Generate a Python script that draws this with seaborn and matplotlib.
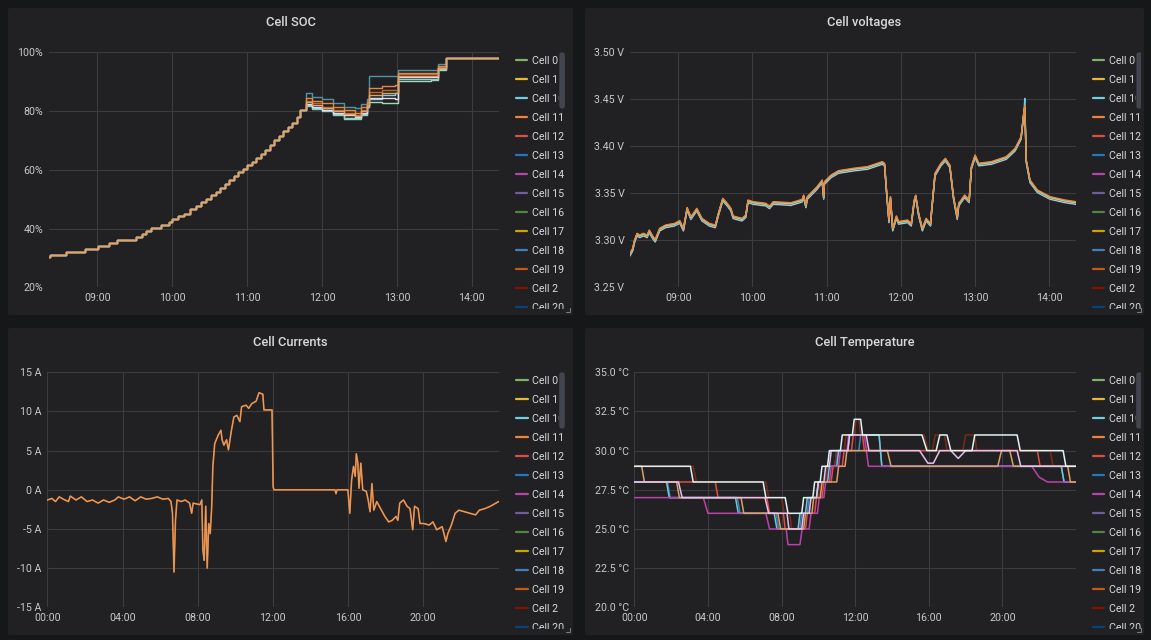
import matplotlib
matplotlib.use("Agg")
import matplotlib.pyplot as plt
from matplotlib.patches import Rectangle, FancyBboxPatch
import pandas as pd
import seaborn as sns

W, H = 1151, 640
BG = "#161719"
PANEL = "#212124"
GRID = "#3c3c3f"
TICK = "#c8c9ca"
TEXT = "#d8d9da"

# ---------------- legend (same list in every panel) ----------------
LEGEND_CELLS = ["Cell 0", "Cell 1", "Cell 10", "Cell 11", "Cell 12", "Cell 13", "Cell 14",
                "Cell 15", "Cell 16", "Cell 17", "Cell 18", "Cell 19", "Cell 2", "Cell 20"]
LEGEND_COLORS = ["#7EB26D", "#EAB839", "#6ED0E0", "#EF843C", "#E24D42", "#1F78C1", "#BA43A9",
                 "#705DA0", "#508642", "#CCA300", "#447EBC", "#C15C17", "#890F02", "#0A437C"]

# ---------------- time axes ----------------
DAY_TICKS = [9, 10, 11, 12, 13, 14]
DAY_LABELS = ["09:00", "10:00", "11:00", "12:00", "13:00", "14:00"]
FULL_TICKS = [0, 4, 8, 12, 16, 20]
FULL_LABELS = ["00:00", "04:00", "08:00", "12:00", "16:00", "20:00"]

# ---------------- Cell SOC (%) ----------------
SOC_HOURS = [8.35, 8.36, 8.58, 8.83, 9.01, 9.15, 9.26, 9.51, 9.59, 9.65,
             9.72, 9.85, 9.95, 10.00, 10.08, 10.16, 10.24, 10.31, 10.38, 10.45,
             10.52, 10.58, 10.64, 10.70, 10.76, 10.82, 10.88, 10.94, 11.00, 11.06,
             11.12, 11.18, 11.24, 11.30, 11.36, 11.42, 11.48, 11.54, 11.60, 11.66]
SOC_BASE = [30.4, 31.0, 32.0, 33.0, 34.0, 35.0, 36.0, 37.2, 38.1, 39.2,
            40.2, 41.1, 42.1, 43.3, 44.2, 45.1, 46.5, 47.8, 49.0, 50.2,
            51.4, 52.5, 53.8, 55.2, 56.6, 57.9, 59.1, 60.3, 61.5, 62.8,
            64.1, 65.4, 66.9, 68.5, 70.0, 71.6, 73.1, 74.6, 76.1, 78.1]
SOC_SPREAD_HOURS = [11.71, 11.79, 11.87, 12.00, 12.14, 12.30, 12.44, 12.52, 12.60,
                    12.63, 12.80, 12.98, 13.02, 13.20, 13.45, 13.55, 13.65]
SOC_TEAL = [80.4, 86.3, 84.9, 84.0, 82.6, 81.5, 80.9, 82.5, 84.0, 91.9, 91.9, 91.9, 94.0, 94.0, 94.0, 96.0, 98.0]
SOC_ORANGE = [80.4, 84.5, 83.5, 82.6, 81.5, 80.2, 79.5, 81.5, 83.0, 88.0, 88.5, 89.0, 93.0, 93.0, 93.0, 95.5, 98.0]
SOC_BROWN = [80.4, 83.5, 82.8, 81.5, 80.4, 79.5, 78.8, 80.5, 82.5, 86.5, 87.0, 87.0, 92.5, 92.5, 92.5, 95.0, 98.0]
SOC_TAN = [80.4, 83.0, 82.0, 81.0, 80.0, 79.0, 78.3, 80.0, 82.2, 85.5, 86.0, 86.0, 92.0, 92.0, 92.0, 94.8, 98.0]
SOC_PINK = [80.4, 82.5, 81.5, 80.5, 79.5, 78.5, 78.0, 79.5, 82.0, 84.5, 84.5, 84.0, 91.5, 91.5, 91.5, 94.5, 98.0]
SOC_CYAN = [80.4, 81.7, 80.8, 80.0, 78.7, 77.2, 77.2, 78.8, 81.5, 84.0, 85.5, 86.0, 91.0, 91.0, 91.0, 94.2, 98.0]
SOC_GREEN = [80.4, 82.0, 81.2, 80.4, 79.0, 77.8, 77.5, 79.0, 81.5, 83.0, 82.6, 82.6, 90.2, 90.2, 90.5, 94.0, 98.0]
SOC_END_HOUR = 14.36
SOC_FULL = 98.0

# ---------------- Cell voltages (V) ----------------
VOLT_HOURS = [8.35, 8.386, 8.41, 8.445, 8.48, 8.53, 8.58, 8.61, 8.66, 8.69,
              8.75, 8.83, 8.95, 9.02, 9.07, 9.12, 9.17, 9.25, 9.32, 9.42,
              9.50, 9.54, 9.60, 9.66, 9.71, 9.74, 9.86, 9.91, 9.94, 10.01,
              10.18, 10.23, 10.28, 10.52, 10.67, 10.69, 10.72, 10.74, 10.87, 10.94,
              10.96, 10.97, 11.06, 11.16, 11.36, 11.55, 11.75, 11.78, 11.81, 11.84,
              11.86, 11.89, 11.94, 11.97, 12.09, 12.14, 12.18, 12.20, 12.24, 12.29,
              12.34, 12.40, 12.41, 12.46, 12.54, 12.60, 12.66, 12.71, 12.76, 12.78,
              12.86, 12.92, 12.95, 13.00, 13.05, 13.22, 13.42, 13.54, 13.62, 13.66,
              13.67, 13.69, 13.74, 13.84, 14.01, 14.21, 14.36]
VOLT_BASE = [3.2862, 3.2915, 3.3000, 3.3075, 3.3057, 3.3075, 3.3057, 3.3110, 3.3040, 3.3010,
             3.3128, 3.3163, 3.3180, 3.3210, 3.3128, 3.3350, 3.3250, 3.3340, 3.3234, 3.3180,
             3.3163, 3.3287, 3.3447, 3.3394, 3.3340, 3.3259, 3.3234, 3.3270, 3.3429, 3.3411,
             3.3394, 3.3365, 3.3411, 3.3400, 3.3436, 3.3482, 3.3376, 3.3465, 3.3570, 3.3642,
             3.3465, 3.3624, 3.3695, 3.3741, 3.3766, 3.3784, 3.3837, 3.3820, 3.3500, 3.3216,
             3.3465, 3.3128, 3.3259, 3.3200, 3.3216, 3.3180, 3.3429, 3.3482, 3.3287, 3.3128,
             3.3234, 3.3180, 3.3287, 3.3713, 3.3820, 3.3872, 3.3801, 3.3465, 3.3250, 3.3394,
             3.3482, 3.3429, 3.3784, 3.3908, 3.3820, 3.3837, 3.3890, 3.3979, 3.4103, 3.4387,
             3.4430, 3.3855, 3.3642, 3.3536, 3.3465, 3.3429, 3.3411]
VOLT_SERIES = ["purple", "white", "green", "cyan", "lightgreen", "orange"]
VOLT_COLORS = ["#8a7ac0", "#e4ecef", "#5e9a50", "#6ED0E0", "#B7DBAB", "#EF843C"]
VOLT_OFFSETS = [-0.0030, -0.0024, -0.0018, -0.0010, -0.0006, 0.0]
VOLT_PEAK_HOUR = 13.67
VOLT_PEAK_CYAN = 3.451

# ---------------- Cell currents (A) ----------------
CUR_HOURS = [0.00, 0.24, 0.43, 0.63, 0.93, 1.12, 1.22, 1.52, 1.81, 2.11,
             2.40, 2.70, 2.99, 3.29, 3.59, 3.78, 4.08, 4.37, 4.67, 4.97,
             5.26, 5.56, 5.85, 6.15, 6.44, 6.58, 6.66, 6.74, 6.82, 6.90,
             7.13, 7.33, 7.57, 7.68, 7.76, 8.12, 8.22, 8.28, 8.35, 8.43,
             8.51, 8.59, 8.67, 8.75, 8.81, 8.91, 9.10, 9.24, 9.30, 9.40,
             9.54, 9.64, 9.80, 9.93, 10.09, 10.25, 10.34, 10.58, 10.72, 10.88,
             11.11, 11.27, 11.47, 11.53, 11.76, 11.96, 12.02, 12.06, 15.31, 15.37,
             15.42, 16.00, 16.10, 16.20, 16.30, 16.39, 16.45, 16.53, 16.59, 16.69,
             16.79, 16.98, 17.08, 17.18, 17.28, 17.38, 17.54, 17.67, 17.97, 18.17,
             18.36, 18.56, 18.66, 18.76, 18.96, 19.15, 19.31, 19.45, 19.55, 19.74,
             19.84, 20.04, 20.33, 20.53, 20.73, 21.02, 21.22, 21.32, 21.51, 21.71,
             21.91, 22.21, 22.50, 22.80, 23.00, 23.29, 23.59, 23.88, 24.03]
CUR_AMPS = [-1.3, -1.1, -1.5, -0.9, -1.3, -1.5, -0.8, -1.3, -0.9, -1.5,
            -1.3, -1.7, -1.3, -1.6, -1.3, -0.9, -1.2, -0.9, -1.4, -0.9,
            -1.2, -1.1, -0.9, -1.2, -1.1, -1.5, -3.0, -10.5, -3.9, -1.3,
            -1.5, -1.3, -1.7, -3.0, -1.7, -1.9, -1.3, -7.7, -9.0, -2.1,
            -10.0, -4.3, -5.6, -2.1, 3.0, 5.9, 7.0, 7.6, 6.4, 5.7,
            6.4, 5.1, 7.6, 9.3, 9.5, 8.7, 10.6, 10.8, 10.4, 11.0,
            11.3, 12.4, 12.2, 10.2, 10.2, 10.2, 0.4, 0.0, 0.0, -0.5,
            0.0, 0.0, -3.0, 1.3, 3.0, 1.7, 4.6, 3.4, 0.2, 3.4,
            0.0, -0.2, -1.3, -2.8, 0.8, -2.6, -1.5, -2.1, -3.4, -4.1,
            -3.9, -3.4, -3.9, -1.7, -1.3, -2.1, -2.4, -5.1, -2.1, -2.4,
            -4.3, -4.3, -4.5, -4.1, -5.1, -4.7, -6.6, -5.6, -4.5, -3.0,
            -2.6, -2.8, -3.0, -3.2, -2.6, -2.4, -2.1, -1.7, -1.5]

# ---------------- Cell temperature (degC) ----------------
TEMP_BLUE_H = [0, 1.8, 1.95, 5.6, 5.75, 7.7, 7.85, 9.0, 9.1, 9.4, 9.5, 9.9, 10.0, 10.4, 10.5,
               10.9, 11.0, 12.2, 12.3, 13.3, 13.45, 23.2, 23.35, 24.0]
TEMP_BLUE_C = [28, 28, 27, 27, 26, 26, 25, 25, 26, 26, 27, 27, 28, 28, 29,
               29, 30, 30, 31, 31, 29, 29, 28, 28]
TEMP_RED_H = [0, 4.4, 4.55, 7.2, 7.35, 8.1, 8.2, 9.3, 9.4, 9.8, 9.9, 10.2, 10.3, 10.7, 10.8,
              11.3, 11.4, 11.8, 11.9, 12.4, 12.5, 21.9, 22.05, 24.0]
TEMP_RED_C = [28, 28, 27, 27, 26, 26, 25, 25, 26, 26, 27, 27, 28, 28, 29,
              29, 30, 30, 31, 31, 30, 30, 29, 29]
TEMP_BROWN_H = [0, 3.2, 3.38, 7.15, 7.3, 8.0, 8.15, 8.45, 8.55, 8.9, 9.0, 9.5, 9.6, 10.0, 10.1,
                10.4, 10.5, 10.9, 11.0, 11.4, 11.5, 11.95, 12.05, 12.2, 12.3, 15.75, 15.95, 16.2,
                16.35, 16.85, 17.0, 17.85, 18.0, 18.5, 18.6, 22.6, 22.75, 24.0]
TEMP_BROWN_C = [29, 29, 28, 28, 27, 27, 26, 26, 25, 25, 26, 26, 27, 27, 28,
                28, 29, 29, 30, 30, 31, 31, 32, 32, 31, 31, 30, 30,
                31, 31, 30, 30, 31, 31, 30, 30, 29, 29]
TEMP_CYAN_H = [0, 1.75, 1.9, 5.5, 5.65, 7.6, 7.75, 8.9, 9.0, 9.3, 9.4, 9.9, 10.0, 10.5, 10.6,
               11.0, 11.1, 11.6, 11.7, 13.3, 13.45, 23.2, 23.35, 24.0]
TEMP_CYAN_C = [28, 28, 27, 27, 26, 26, 25, 25, 26, 26, 27, 27, 28, 28, 29,
               29, 30, 30, 31, 31, 29, 29, 28, 28]
TEMP_MAGENTA_H = [0, 3.75, 4.0, 7.15, 7.35, 8.25, 8.35, 9.0, 9.12, 9.5, 9.6, 9.95, 10.05, 10.3,
                  10.4, 10.6, 10.7, 11.1, 11.2, 11.55, 11.65, 12.5, 12.72, 21.6, 22.0, 22.45, 24.0]
TEMP_MAGENTA_C = [27, 27, 26, 26, 25, 25, 24, 24, 25, 25, 26, 26, 27, 27,
                  28, 28, 29, 29, 30, 30, 31, 31, 29, 29, 28.3, 28, 28]
TEMP_TAN_H = [0, 0.4, 0.55, 2.3, 2.45, 5.8, 5.95, 7.8, 7.95, 9.2, 9.3, 9.65, 9.75, 10.1, 10.2,
              11.0, 11.1, 11.45, 11.55, 13.75, 13.95, 19.75, 19.95, 20.4, 20.6, 23.55, 23.7, 24.0]
TEMP_TAN_C = [29, 29, 28, 28, 27, 27, 26, 26, 25, 25, 26, 26, 27, 27, 28,
              28, 29, 29, 30, 30, 29, 29, 30, 30, 29, 29, 28, 28]
TEMP_PINK_H = [0, 2.4, 2.6, 7.1, 7.3, 8.3, 8.4, 9.1, 9.2, 9.5, 9.6, 9.9, 10.0, 10.3, 10.4,
               10.6, 10.7, 11.6, 11.7, 12.6, 12.75, 15.5, 15.95, 16.25, 16.6, 17.2, 17.6, 18.0,
               20.8, 21.0, 24.0]
TEMP_PINK_C = [28, 28, 27, 27, 26, 26, 25, 25, 26, 26, 27, 27, 28, 28, 29,
               29, 30, 30, 31, 31, 30, 30, 29.2, 29.2, 30, 30, 29.5, 30,
               30, 29, 29]
TEMP_WHITE_H = [0, 3.05, 3.2, 7.0, 7.15, 8.2, 8.35, 9.1, 9.2, 9.7, 9.8, 10.1, 10.2, 10.5, 10.6,
                11.2, 11.3, 11.85, 11.95, 12.3, 12.4, 15.63, 15.9, 16.4, 16.6, 16.99, 17.2, 18.35,
                18.5, 20.8, 20.97, 23.3, 23.45, 24.0]
TEMP_WHITE_C = [29, 29, 28, 28, 27, 27, 26, 26, 27, 27, 28, 28, 29, 29, 30,
                30, 31, 31, 32, 32, 31, 31, 30, 30, 31, 31, 30, 30,
                31, 31, 30, 30, 29, 29]

# ---------------- layout (pixels) ----------------
PANELS = {
    "soc": dict(box=(8, 8, 573, 315), plot=(48.8, 52.3, 498.7, 287.3), title="Cell SOC",
                leg_line=515.7, leg_text=531.7, leg_y0=60, leg_bottom=308.5),
    "volt": dict(box=(585, 8, 1144, 315), plot=(630, 52.3, 1076, 287.3), title="Cell voltages",
                 leg_line=1092.7, leg_text=1108.8, leg_y0=60, leg_bottom=308.5),
    "cur": dict(box=(8, 328, 573, 635), plot=(47.4, 372.3, 498.7, 607.3), title="Cell Currents",
                leg_line=516, leg_text=531.6, leg_y0=380, leg_bottom=628.5),
    "temp": dict(box=(585, 328, 1144, 635), plot=(634.3, 372.3, 1076, 607.3), title="Cell Temperature",
                 leg_line=1092.7, leg_text=1108.6, leg_y0=380, leg_bottom=628.5),
}

sns.set_theme(style="dark")
plt.rcParams["font.family"] = ["Roboto", "DejaVu Sans"]

fig = plt.figure(figsize=(W / 100, H / 100), dpi=100, facecolor=BG)


def make_axes(l, t, r, b, **kw):
    return fig.add_axes([l / W, 1 - b / H, (r - l) / W, (b - t) / H], **kw)


# panel backgrounds
bg = make_axes(0, 0, W, H, zorder=-1)
bg.set_xlim(0, W)
bg.set_ylim(H, 0)
bg.axis("off")
for p in PANELS.values():
    l, t, r, b = p["box"]
    bg.add_patch(FancyBboxPatch((l, t), r - l, b - t, boxstyle="round,pad=0,rounding_size=2",
                                facecolor=PANEL, edgecolor="none"))
    bg.plot([r - 7, r - 3, r - 3], [b - 3, b - 3, b - 7], color="#77787c", lw=0.8)
    fig.text((l + r) / 2 / W, 1 - (t + 14.5) / H, p["title"], ha="center", va="center",
             fontsize=9.3, fontweight="medium", color=TEXT)


def series_frame(name, hours, values):
    return pd.DataFrame({"hour": hours, "value": values, "series": name})


def draw_lines(ax, frames, palette, **kw):
    data = pd.concat(frames, ignore_index=True)
    sns.lineplot(data=data, x="hour", y="value", hue="series", hue_order=list(palette),
                 palette=palette, estimator=None, sort=False, legend=False, ax=ax, **kw)


def style_axes(ax, xlim, ylim, xticks, xlabels, yticks, ylabels):
    ax.set_xlim(*xlim)
    ax.set_ylim(*ylim)
    ax.set_xticks(xticks, xlabels)
    ax.set_yticks(yticks, ylabels)
    ax.set_facecolor("none")
    for s in ax.spines.values():
        s.set_visible(False)
    ax.grid(True, color=GRID, lw=0.8)
    ax.set_axisbelow(True)
    ax.tick_params(axis="both", length=0, colors=TICK, labelsize=7.7)
    ax.tick_params(axis="y", pad=4)
    ax.tick_params(axis="x", pad=4)
    ax.set_xlabel("")
    ax.set_ylabel("")


def draw_legend(p):
    l, t, r, b = p["box"]
    top = p["leg_y0"] - 10
    lax = make_axes(p["leg_line"] - 3, top, r - 3, p["leg_bottom"])
    lax.set_xlim(p["leg_line"] - 3, r - 3)
    lax.set_ylim(p["leg_bottom"], top)
    lax.axis("off")
    sb_x0 = p["leg_text"] + 27.6
    for i, (name, color) in enumerate(zip(LEGEND_CELLS, LEGEND_COLORS)):
        y = p["leg_y0"] + i * 19
        lax.plot([p["leg_line"], p["leg_line"] + 11.5], [y, y], color=color, lw=1.6,
                 solid_capstyle="round")
        txt = lax.text(p["leg_text"], y + 0.8, name, ha="left", va="center", fontsize=7.7,
                       color=TEXT, clip_on=True)
        if i < 3:
            # entries beside the scrollbar are cut off where the scrollbar starts
            txt.set_clip_path(Rectangle((p["leg_line"] - 3, top), sb_x0 - 0.6 - (p["leg_line"] - 3), 80,
                                        transform=lax.transData))
    lax.add_patch(FancyBboxPatch((sb_x0, p["leg_y0"] - 7.7), 5.6, 56.2,
                                 boxstyle="round,pad=0,rounding_size=2.5",
                                 facecolor="#43454e", edgecolor="none"))


# ---------- Cell SOC ----------
ax = make_axes(*PANELS["soc"]["plot"])
soc_palette = {"teal": "#4f93a5", "green": "#a6d9b5", "cyan": "#86d3d6", "pink": "#efd6ef",
               "brown": "#c0682a", "orange": "#e8873f", "tan": "#dba56f"}
soc_profiles = {"teal": SOC_TEAL, "green": SOC_GREEN, "cyan": SOC_CYAN, "pink": SOC_PINK,
                "brown": SOC_BROWN, "orange": SOC_ORANGE, "tan": SOC_TAN}
frames = [series_frame(k, SOC_HOURS + SOC_SPREAD_HOURS + [SOC_END_HOUR],
                       SOC_BASE + v + [SOC_FULL]) for k, v in soc_profiles.items()]
draw_lines(ax, frames, soc_palette, linewidth=1.0, drawstyle="steps-post")
style_axes(ax, (8.35, 14.36), (20, 100), DAY_TICKS, DAY_LABELS,
           [20, 40, 60, 80, 100], ["20%", "40%", "60%", "80%", "100%"])

# ---------- Cell voltages ----------
ax = make_axes(*PANELS["volt"]["plot"])
frames = []
for name, off in zip(VOLT_SERIES, VOLT_OFFSETS):
    vals = [v + off for v in VOLT_BASE]
    if name == "cyan":
        vals[VOLT_HOURS.index(VOLT_PEAK_HOUR)] = VOLT_PEAK_CYAN
    frames.append(series_frame(name, VOLT_HOURS, vals))
draw_lines(ax, frames, dict(zip(VOLT_SERIES, VOLT_COLORS)), linewidth=1.0)
style_axes(ax, (8.35, 14.36), (3.25, 3.50), DAY_TICKS, DAY_LABELS,
           [3.25, 3.30, 3.35, 3.40, 3.45, 3.50],
           ["3.25 V", "3.30 V", "3.35 V", "3.40 V", "3.45 V", "3.50 V"])

# ---------- Cell Currents ----------
ax = make_axes(*PANELS["cur"]["plot"])
draw_lines(ax, [series_frame("orange", CUR_HOURS, CUR_AMPS)], {"orange": "#E0752D"}, linewidth=1.2)
draw_lines(ax, [series_frame("tan", CUR_HOURS, CUR_AMPS)], {"tan": "#e0a066"}, linewidth=0.7)
style_axes(ax, (0, 24.03), (-15, 15), FULL_TICKS, FULL_LABELS,
           [-15, -10, -5, 0, 5, 10, 15], ["-15 A", "-10 A", "-5 A", "0 A", "5 A", "10 A", "15 A"])

# ---------- Cell Temperature ----------
ax = make_axes(*PANELS["temp"]["plot"])
temp_palette = {"blue": "#447EBC", "red": "#E24D42", "brown": "#7a2a1a", "cyan": "#70c8d6",
                "magenta": "#BA43A9", "tan": "#d9a066", "pink": "#e6c0ea", "white": "#dff4f2"}
temp_data = {"blue": (TEMP_BLUE_H, TEMP_BLUE_C), "red": (TEMP_RED_H, TEMP_RED_C),
             "brown": (TEMP_BROWN_H, TEMP_BROWN_C), "cyan": (TEMP_CYAN_H, TEMP_CYAN_C),
             "magenta": (TEMP_MAGENTA_H, TEMP_MAGENTA_C), "tan": (TEMP_TAN_H, TEMP_TAN_C),
             "pink": (TEMP_PINK_H, TEMP_PINK_C), "white": (TEMP_WHITE_H, TEMP_WHITE_C)}
frames = [series_frame(k, h, c) for k, (h, c) in temp_data.items()]
draw_lines(ax, frames, temp_palette, linewidth=1.1)
style_axes(ax, (0, 24.0), (20, 35), FULL_TICKS, FULL_LABELS,
           [20, 22.5, 25, 27.5, 30, 32.5, 35],
           ["20.0 °C", "22.5 °C", "25.0 °C", "27.5 °C", "30.0 °C", "32.5 °C", "35.0 °C"])

for p in PANELS.values():
    draw_legend(p)

fig.savefig("out.png", dpi=100, facecolor=fig.get_facecolor())
